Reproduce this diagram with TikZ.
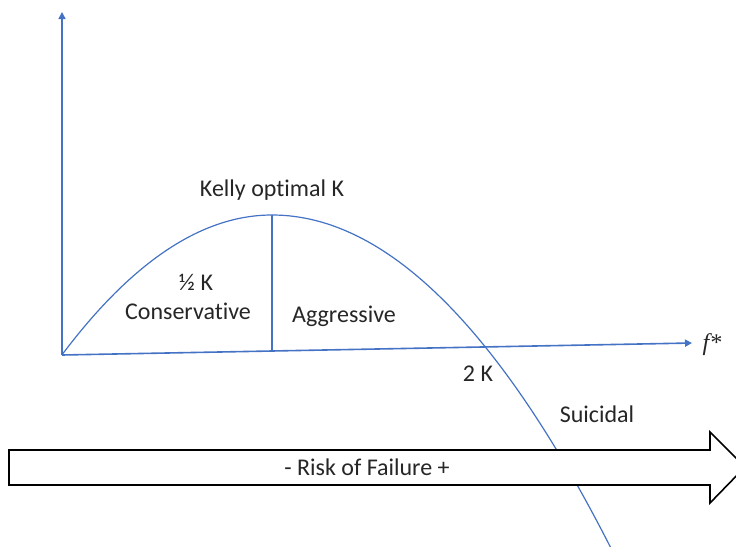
\documentclass[tikz,border=0pt]{standalone}
\usepackage{fontspec}
\setmainfont[Ligatures=NoCommon]{Carlito}
\newfontfamily\symbolfont{Liberation Serif}
\usetikzlibrary{arrows.meta}
\definecolor{axisblue}{HTML}{4472C4}
\begin{document}
\begin{tikzpicture}[x=1pt,y=-1pt,
  axisline/.style={draw=axisblue,line width=1.6pt,-{Triangle[length=7pt,width=7pt]}},
  curveline/.style={draw=axisblue,line width=1.2pt},
  lbl/.style={font=\fontsize{24}{28}\selectfont,inner sep=0pt,text=black!85},
  blockarrow/.style={draw=black,line width=1.6pt,fill=white,line join=miter}]
\useasboundingbox (0,0) rectangle (736,546);
\clip (0,0) rectangle (736,546);

% origin and axis ends
\coordinate (O) at (62,355);
\coordinate (ytip) at (62,12);
\coordinate (xtip) at (692,343);
\coordinate (peak) at (272,215);
\coordinate (base) at (272,351);

% axes
\draw[axisline] (O) -- (ytip);
\draw[axisline] (O) -- (xtip);

% growth curve: parabola with its maximum at the Kelly fraction
\draw[curveline] plot[domain=62:272,samples=60]
  (\x,{215+31.7*((\x-272)/100)^2});
\draw[curveline] plot[domain=272:615,samples=80]
  (\x,{215+29*((\x-272)/100)^2});
\draw[curveline] (peak) -- (base);

% block arrow for the risk scale
\draw[blockarrow] (9,450) -- (710,450) -- (710,432) -- (745,467)
  -- (710,503) -- (710,485) -- (9,485) -- cycle;

% labels
\node[lbl] (kelly) at (272,190) {Kelly optimal K};
\node[lbl] (half) at (196,282) {½ K};
\node[lbl] (cons) at (188,311) {Conservative};
\node[lbl] (aggr) at (344,316) {Aggressive};
\node[lbl] (twok) at (478,374) {2 K};
\node[lbl] (suic) at (597,414) {Suicidal};
\node[lbl] (fstar) at (712,345) {\symbolfont\itshape f*};
\node[lbl] (risk) at (367,467) {- Risk of Failure +};
\end{tikzpicture}
\end{document}
